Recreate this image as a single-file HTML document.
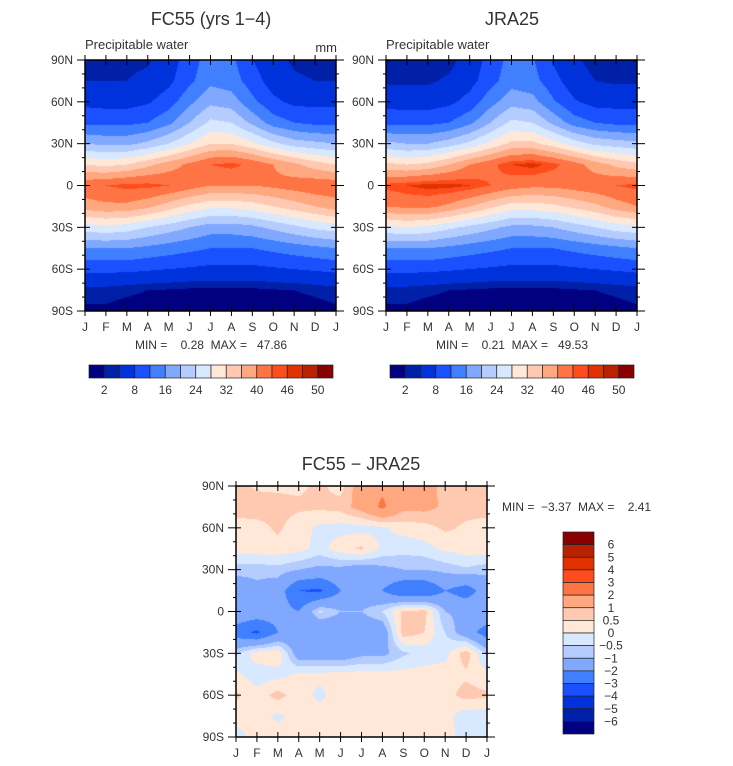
<!DOCTYPE html>
<html><head><meta charset="utf-8">
<style>
body{margin:0;background:#fff;width:733px;height:766px;overflow:hidden;position:relative;font-family:"Liberation Sans",sans-serif;color:#333}
svg{position:absolute;left:0;top:0}
svg text{white-space:pre}
canvas{position:absolute}
</style></head>
<body>
<canvas id="c1" width="251" height="251" style="left:85px;top:60px"></canvas>
<canvas id="c2" width="251" height="251" style="left:386px;top:60px"></canvas>
<canvas id="c3" width="251" height="251" style="left:236px;top:486px"></canvas>
<svg id="s" width="733" height="766"></svg>
<script>
const months=["J","F","M","A","M","J","J","A","S","O","N","D","J"];
const latLabels=["90N","60N","30N","0","30S","60S","90S"];
const palette=["#000080","#0020a8","#0032dc","#1a50ff","#4080ff","#80a8ff","#b4ccff","#d8e8ff","#ffe8d8","#ffc8b0","#ffa880","#ff7444","#ff4c1c","#e03200","#b82200","#880000"];
const pwLevels=[2,4,8,12,16,20,24,28,32,36,40,44,46,48,50];
const pwLabels=["2","8","16","24","32","40","46","50"];
const diffLevels=[-6,-5,-4,-3,-2,-1,-0.5,0,0.5,1,2,3,4,5,6];
const diffLabels=["6","5","4","3","2","1","0.5","0","\u22120.5","\u22121","\u22122","\u22123","\u22124","\u22125","\u22126"];
// rows: 90N,75N,...,90S ; columns: Jan..Dec,Jan
const fc55=[
[3,3,3,3.5,6,10,14,13,8,5,3.5,3,3],
[4,4,4,5,7,11,15,14,10,6,4.5,4,4],
[7,6.5,6.5,7.5,10,15,19,18,13,9,7,7,7],
[11,11,11,12,15,20,25,24,19,14,12,11,11],
[20,19,19,21,24,28,32,32,29,25,22,21,20],
[32,31,32,35,38,41,44,45,43,40,37,34,32],
[43,44,45,45,44,42,40,40,40,41,42,43,43],
[38,39,39,37,34,31,29,29,30,32,34,36,38],
[26,27,26,24,22,20,18,18,19,21,23,25,26],
[16,16,16,15,14,13,12,12,12,13,14,15,16],
[9,9,9,8.5,8,7.5,7,7,7,7.5,8,8.5,9],
[3,3,2.5,2,1.8,1.5,1.5,1.5,1.5,1.8,2,2.5,3],
[1.5,1.5,1,0.8,0.6,0.5,0.4,0.4,0.5,0.6,0.8,1,1.5]];
const jra25=[
[1.8,2.5,2.5,3,5.5,9.5,13.5,12.5,7.5,4.5,3,2.5,1.8],
[3.5,3.5,3.5,4.5,6.5,10.5,14.5,13.5,9.5,5.5,4,3.5,3.5],
[6.5,6,6,7,9.5,14.5,18.5,17.5,12.5,8.5,6.5,6.5,6.5],
[11,11,11,12,15,20,25,24,19,14,12,11,11],
[21,20,20,22,25,29,33,33,30,26,23,22,21],
[33,32,33,36,40,43,46,47,45,42,38,35,33],
[45,46,47,47,46,44,42,41,41,42,43,44,45],
[40,41,41,39,36,33,30,30,31,33,35,38,40],
[27,28,27,25,23,21,19,19,20,22,24,26,27],
[16,16,16,15,14,13,12,12,12,13,14,15,16],
[9,9,9,8.5,8,7.5,7,7,7,7.5,8,8.5,9],
[3,3,2.5,2,1.8,1.5,1.5,1.5,1.5,1.8,2,2.5,3],
[1.5,1.5,1,0.8,0.6,0.5,0.4,0.4,0.5,0.6,0.8,1,1.5]];
const diff=[
[0.7,0.4,0.4,0.4,0.6,0.3,1.5,1.8,1.3,1.3,0.8,0.6,0.6],
[0.7,0.8,0.7,0.6,0.6,0.7,1.3,2.2,1.2,1.2,0.9,0.7,0.7],
[0.3,0.3,0.6,0.2,-0.1,-0.2,-0.2,-0.1,0.2,0.3,0.6,0.4,0.3],
[0.3,0.3,0.3,0.2,-0.2,0.3,0.6,-0.1,-0.3,-0.2,0.1,0.3,0.3],
[-0.8,-0.8,-0.7,-1,-1.2,-1.2,-1.5,-1.2,-1,-1,-0.8,-0.6,-0.8],
[-1.5,-1.2,-1.5,-3,-3.2,-2,-1.5,-2,-3,-3,-2,-2.5,-1.5],
[-1.2,-1.3,-1.6,-2,-0.4,-1,-1,-0.5,0.6,0.7,-1,-1.2,-1.2],
[-2.5,-3.2,-2,-1.5,-2,-1.6,-1.6,-1.6,0.8,0.5,-0.5,-1.5,-2.5],
[-0.6,0.3,0.4,-1.5,-1.5,-1.6,-1.2,-1.2,-0.6,-0.3,-0.2,0.8,-0.6],
[0.1,-0.3,-0.2,0.1,0.1,0.2,0.2,0.2,0.2,0.2,0.3,0.4,0.1],
[0.6,0.2,0.7,0.2,-0.1,0.2,0.2,0.2,0.2,0.2,0.3,0.7,0.6],
[0.2,0.2,-0.1,0.2,0.2,0.2,0.2,0.2,0.2,0.2,0.2,-0.3,-0.3],
[-0.2,0.2,0.2,0.2,0.2,0.2,0.2,0.2,0.2,0.2,0.2,-0.2,-0.2]];

function hex(h){return [parseInt(h.substr(1,2),16),parseInt(h.substr(3,2),16),parseInt(h.substr(5,2),16)];}
const rgb=palette.map(hex);
function drawField(id,field,levels){
  const cv=document.getElementById(id),ctx=cv.getContext('2d'),W=cv.width,H=cv.height;
  const img=ctx.createImageData(W,H),nr=field.length,nc=field[0].length;
  for(let y=0;y<H;y++){const fy=(y+0.5)/H*(nr-1),r0=Math.min(Math.floor(fy),nr-2),ty=fy-r0;
    for(let x=0;x<W;x++){const fx=(x+0.5)/W*(nc-1),c0=Math.min(Math.floor(fx),nc-2),tx=fx-c0;
      const v=(field[r0][c0]*(1-tx)+field[r0][c0+1]*tx)*(1-ty)+(field[r0+1][c0]*(1-tx)+field[r0+1][c0+1]*tx)*ty;
      let k=0;while(k<levels.length&&v>=levels[k])k++;
      const c=rgb[k],i=(y*W+x)*4;img.data[i]=c[0];img.data[i+1]=c[1];img.data[i+2]=c[2];img.data[i+3]=255;}}
  ctx.putImageData(img,0,0);
}
drawField('c1',fc55,pwLevels);drawField('c2',jra25,pwLevels);drawField('c3',diff,diffLevels);

const S=document.getElementById('s'),NS="http://www.w3.org/2000/svg";
function el(t,a,p){const e=document.createElementNS(NS,t);for(const k in a)e.setAttribute(k,a[k]);(p||S).appendChild(e);return e;}
function txt(x,y,s,size,anchor){const e=el('text',{x:x,y:y,'font-size':size,'text-anchor':anchor||'middle',fill:'#333','font-family':'Liberation Sans, sans-serif'});e.textContent=s;return e;}
function frame(x0,y0,w,h,name){
  const g=el('g',{});
  el('rect',{x:x0,y:y0,width:w,height:h,fill:'none',stroke:'#000','stroke-width':1.5},g);
  for(let i=0;i<=12;i++){const x=x0+i*w/12;
    el('line',{x1:x,y1:y0-5,x2:x,y2:y0+5,stroke:'#000'},g);
    el('line',{x1:x,y1:y0+h-5,x2:x,y2:y0+h+5,stroke:'#000'},g);
    const t=txt(x,y0+h+20,months[i],12);}
  for(let j=0;j<=18;j++){const y=y0+j*h/18,maj=j%3==0,l=maj?8:3;
    el('line',{x1:x0-l,y1:y,x2:x0+(maj?5:0),y2:y,stroke:'#000'},g);
    el('line',{x1:x0+w-(maj?5:0),y1:y,x2:x0+w+l,y2:y,stroke:'#000'},g);
    if(maj){const t=txt(x0-12,y+4,latLabels[j/3],12,'end');}}
}
frame(85,60,251,251,'fc55-axes');frame(386,60,251,251,'jra25-axes');frame(236,486,251,251,'diff-axes');

function hbar(x0,y0,w,h,name){
  const g=el('g',{});
  const bw=w/16;
  palette.forEach((c,i)=>el('rect',{x:x0+i*bw,y:y0,width:bw,height:h,fill:c,stroke:'#222','stroke-width':0.7},g));
  pwLabels.forEach((s,i)=>{const t=txt(x0+(2*i+1)*bw,y0+h+16,s,12);});
}
hbar(89,365,244,13,'fc55-colorbar');hbar(390,365,244,13,'jra25-colorbar');
(function(){const x0=563,y0=532,w=31,h=202,bh=h/16;
  const g=el('g',{});
  for(let i=0;i<16;i++)el('rect',{x:x0,y:y0+i*bh,width:w,height:bh,fill:palette[15-i],stroke:'#222','stroke-width':0.7},g);
  diffLabels.forEach((s,i)=>{const t=txt(611,y0+(i+1)*bh+4,s,12);});
})();
function label(x,y,s,size,anchor,name){const t=txt(x,y,s,size,anchor);}
label(211,25,"FC55 (yrs 1\u22124)",18,'middle','fc55-title');
label(512,25,"JRA25",18,'middle','jra25-title');
label(361,470,"FC55 \u2212 JRA25",18,'middle','diff-title');
label(85,49,"Precipitable water",13,'start','fc55-subtitle');
label(386,49,"Precipitable water",13,'start','jra25-subtitle');
label(337,52,"mm",13,'end','units-label');
label(211,349,"MIN =    0.28  MAX =   47.86",12,'middle','fc55-minmax');
label(512,349,"MIN =    0.21  MAX =   49.53",12,'middle','jra25-minmax');
label(502,511,"MIN =  \u22123.37  MAX =    2.41",12,'start','diff-minmax');
</script>
</body></html>
